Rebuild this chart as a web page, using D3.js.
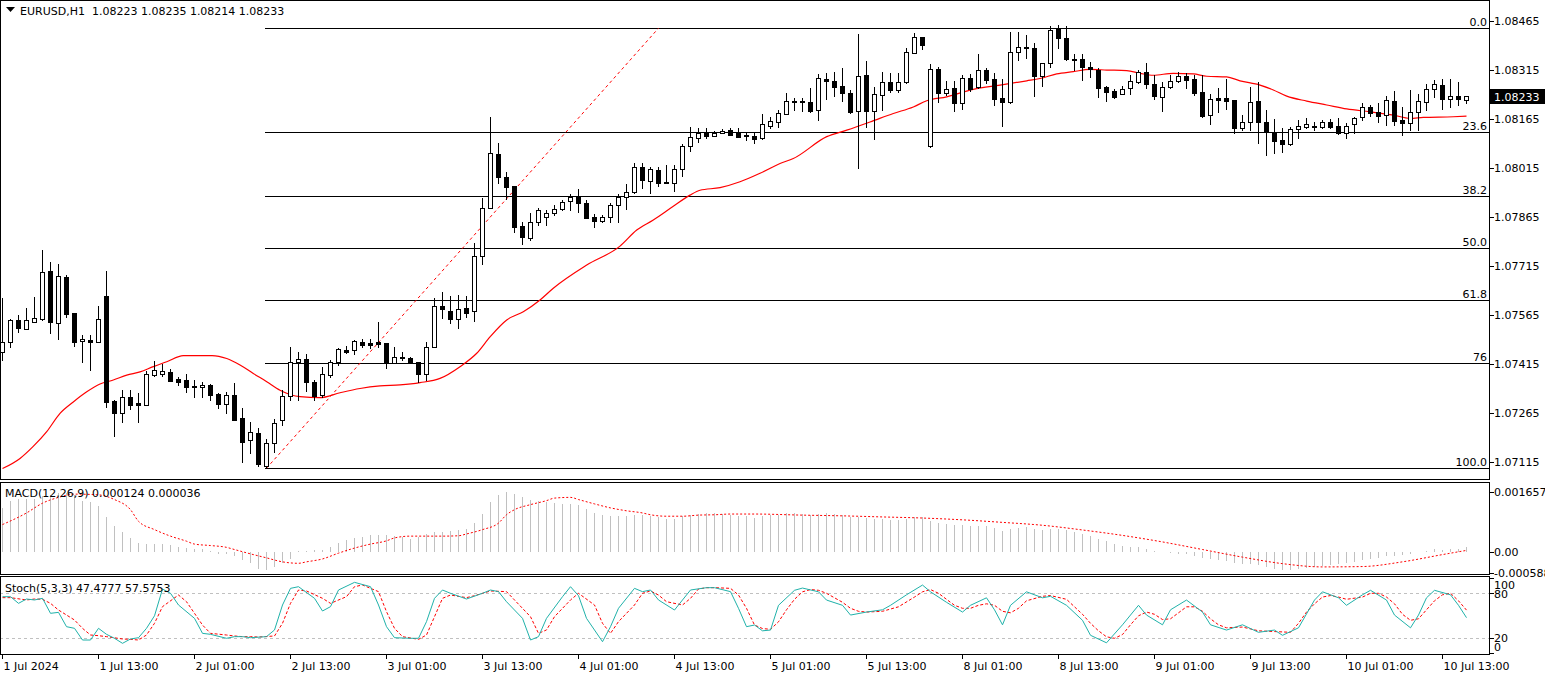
<!DOCTYPE html>
<html><head><meta charset="utf-8">
<script src="https://cdn.jsdelivr.net/npm/d3@7"></script>
<style>
html,body{margin:0;padding:0;background:#fff;overflow:hidden;}
svg{display:block;font-family:"DejaVu Sans",sans-serif;font-size:11px;}
</style></head><body>
<svg id="c" width="1545" height="676"></svg>
<script>
// ---------- DATA ----------
const symbolTitle = "EURUSD,H1  1.08223 1.08235 1.08214 1.08233";
const macdTitle = "MACD(12,26,9) 0.000124 0.000036";
const stochTitle = "Stoch(5,3,3) 47.4777 57.5753";
const lastPrice = 1.08233;

const openP=[1.07451,1.07482,1.07549,1.07522,1.07543,1.07552,1.07699,1.07541,1.07681,1.07570,
1.07483,1.07487,1.07482,1.07622,1.07301,1.07265,1.07313,1.07295,1.07290,1.07381,
1.07385,1.07389,1.07368,1.07365,1.07347,1.07343,1.07350,1.07322,1.07293,1.07319,
1.07248,1.07180,1.07202,1.07103,1.07171,1.07242,1.07316,1.07419,1.07428,1.07360,
1.07318,1.07379,1.07419,1.07457,1.07457,1.07480,1.07477,1.07482,1.07477,1.07416,
1.07435,1.07431,1.07421,1.07385,1.07467,1.07592,1.07577,1.07551,1.07584,1.07577,
1.07744,1.07893,1.08057,1.07985,1.07959,1.07836,1.07800,1.07848,1.07865,1.07875,
1.07889,1.07912,1.07926,1.07906,1.07863,1.07851,1.07863,1.07900,1.07924,1.07942,
1.08016,1.07975,1.08008,1.07972,1.07967,1.08010,1.08081,1.08105,1.08122,1.08113,
1.08120,1.08130,1.08120,1.08115,1.08112,1.08105,1.08143,1.08154,1.08178,1.08219,
1.08219,1.08215,1.08191,1.08288,1.08280,1.08265,1.08245,1.08189,1.08298,1.08189,
1.08238,1.08277,1.08253,1.08278,1.08367,1.08414,1.08082,1.08316,1.08244,1.08258,
1.08214,1.08291,1.08261,1.08314,1.08288,1.08228,1.08215,1.08368,1.08385,1.08380,
1.08295,1.08334,1.08441,1.08411,1.08347,1.08347,1.08322,1.08314,1.08261,1.08249,
1.08242,1.08258,1.08278,1.08307,1.08270,1.08232,1.08263,1.08281,1.08295,1.08288,
1.08247,1.08176,1.08228,1.08228,1.08222,1.08138,1.08155,1.08219,1.08154,1.08125,
1.08100,1.08089,1.08132,1.08140,1.08141,1.08140,1.08154,1.08142,1.08120,1.08148,
1.08169,1.08200,1.08184,1.08176,1.08219,1.08161,1.08151,1.08186,1.08215,1.08255,
1.08268,1.08226,1.08234,1.08223];
const highP=[1.07615,1.07552,1.07564,1.07585,1.07620,1.07763,1.07725,1.07720,1.07686,1.07570,
1.07503,1.07503,1.07591,1.07699,1.07304,1.07333,1.07333,1.07324,1.07392,1.07424,
1.07414,1.07398,1.07375,1.07383,1.07365,1.07360,1.07353,1.07326,1.07329,1.07355,
1.07278,1.07237,1.07217,1.07186,1.07245,1.07334,1.07467,1.07450,1.07444,1.07365,
1.07406,1.07426,1.07462,1.07469,1.07489,1.07491,1.07491,1.07543,1.07477,1.07465,
1.07450,1.07436,1.07421,1.07482,1.07615,1.07633,1.07622,1.07625,1.07622,1.07783,
1.07922,1.08171,1.08091,1.08002,1.07959,1.07849,1.07875,1.07893,1.07885,1.07900,
1.07916,1.07936,1.07949,1.07916,1.07873,1.07870,1.07906,1.07934,1.07965,1.08028,
1.08028,1.08018,1.08018,1.08023,1.08023,1.08089,1.08140,1.08135,1.08135,1.08127,
1.08132,1.08135,1.08135,1.08120,1.08120,1.08179,1.08171,1.08191,1.08244,1.08227,
1.08227,1.08258,1.08302,1.08306,1.08309,1.08321,1.08253,1.08424,1.08341,1.08263,
1.08307,1.08306,1.08304,1.08380,1.08426,1.08414,1.08332,1.08324,1.08280,1.08281,
1.08298,1.08302,1.08363,1.08319,1.08304,1.08288,1.08429,1.08429,1.08421,1.08397,
1.08334,1.08448,1.08452,1.08448,1.08363,1.08363,1.08339,1.08319,1.08265,1.08256,
1.08265,1.08298,1.08314,1.08334,1.08298,1.08278,1.08298,1.08309,1.08306,1.08298,
1.08298,1.08242,1.08258,1.08285,1.08222,1.08176,1.08261,1.08278,1.08193,1.08163,
1.08138,1.08140,1.08161,1.08166,1.08155,1.08161,1.08163,1.08166,1.08151,1.08171,
1.08214,1.08207,1.08212,1.08234,1.08250,1.08200,1.08253,1.08240,1.08271,1.08283,
1.08288,1.08285,1.08278,1.08235];
const lowP=[1.07426,1.07465,1.07513,1.07521,1.07543,1.07549,1.07510,1.07490,1.07559,1.07469,
1.07421,1.07395,1.07482,1.07283,1.07193,1.07237,1.07276,1.07237,1.07290,1.07378,
1.07378,1.07363,1.07350,1.07329,1.07314,1.07314,1.07304,1.07280,1.07265,1.07242,
1.07115,1.07141,1.07103,1.07096,1.07144,1.07227,1.07304,1.07304,1.07331,1.07304,
1.07314,1.07375,1.07411,1.07447,1.07444,1.07467,1.07462,1.07467,1.07401,1.07416,
1.07426,1.07416,1.07360,1.07365,1.07467,1.07554,1.07540,1.07523,1.07559,1.07546,
1.07719,1.07893,1.07969,1.07919,1.07819,1.07780,1.07793,1.07839,1.07839,1.07870,
1.07885,1.07885,1.07880,1.07862,1.07834,1.07849,1.07848,1.07848,1.07890,1.07938,
1.07952,1.07938,1.07960,1.07967,1.07944,1.07989,1.08067,1.08094,1.08105,1.08111,
1.08120,1.08114,1.08110,1.08100,1.08091,1.08102,1.08138,1.08140,1.08178,1.08191,
1.08189,1.08186,1.08161,1.08225,1.08234,1.08219,1.08183,1.08013,1.08140,1.08102,
1.08191,1.08247,1.08247,1.08275,1.08365,1.08377,1.08079,1.08217,1.08237,1.08189,
1.08196,1.08250,1.08258,1.08273,1.08207,1.08142,1.08212,1.08344,1.08350,1.08235,
1.08265,1.08324,1.08380,1.08344,1.08314,1.08283,1.08293,1.08232,1.08220,1.08228,
1.08240,1.08240,1.08273,1.08258,1.08225,1.08189,1.08258,1.08278,1.08258,1.08237,
1.08169,1.08148,1.08186,1.08196,1.08120,1.08130,1.08130,1.08091,1.08053,1.08059,
1.08064,1.08086,1.08105,1.08135,1.08130,1.08135,1.08138,1.08118,1.08105,1.08120,
1.08161,1.08174,1.08155,1.08145,1.08145,1.08115,1.08130,1.08130,1.08193,1.08232,
1.08196,1.08200,1.08207,1.08214];
const closeP=[1.07480,1.07549,1.07525,1.07549,1.07554,1.07695,1.07543,1.07683,1.07567,1.07482,
1.07490,1.07480,1.07552,1.07298,1.07265,1.07313,1.07289,1.07289,1.07383,1.07395,
1.07392,1.07363,1.07358,1.07344,1.07343,1.07350,1.07320,1.07292,1.07319,1.07242,
1.07176,1.07205,1.07107,1.07171,1.07234,1.07316,1.07419,1.07428,1.07360,1.07317,
1.07383,1.07419,1.07460,1.07451,1.07484,1.07472,1.07472,1.07475,1.07416,1.07436,
1.07432,1.07419,1.07382,1.07467,1.07592,1.07581,1.07551,1.07581,1.07571,1.07744,
1.07893,1.08059,1.07987,1.07956,1.07834,1.07802,1.07848,1.07885,1.07875,1.07890,
1.07910,1.07924,1.07906,1.07862,1.07851,1.07863,1.07900,1.07924,1.07942,1.08016,
1.07976,1.08010,1.07969,1.07967,1.08010,1.08081,1.08108,1.08120,1.08113,1.08120,
1.08128,1.08114,1.08110,1.08112,1.08102,1.08148,1.08158,1.08181,1.08218,1.08215,
1.08215,1.08188,1.08291,1.08281,1.08263,1.08244,1.08186,1.08295,1.08189,1.08242,
1.08277,1.08253,1.08277,1.08368,1.08414,1.08391,1.08316,1.08244,1.08255,1.08214,
1.08291,1.08256,1.08314,1.08283,1.08224,1.08217,1.08368,1.08383,1.08380,1.08296,
1.08334,1.08436,1.08411,1.08347,1.08344,1.08322,1.08317,1.08258,1.08247,1.08232,
1.08255,1.08281,1.08307,1.08270,1.08235,1.08263,1.08281,1.08295,1.08283,1.08244,
1.08173,1.08224,1.08222,1.08220,1.08135,1.08155,1.08217,1.08155,1.08125,1.08097,
1.08089,1.08132,1.08142,1.08148,1.08142,1.08154,1.08140,1.08120,1.08143,1.08166,
1.08200,1.08181,1.08174,1.08222,1.08158,1.08152,1.08184,1.08219,1.08255,1.08270,
1.08224,1.08234,1.08224,1.08233];

// moving average (red), read at (fractional) bar positions
const maBars=[0,2.19,3.81,5.53,7.19,8.85,10.53,12.19,13.85,15.53,17.19,18.85,20.53,22.6,24.69,26.19,28.03,29.69,31.35,33.03,34.69,37.19,39.69,42.19,44.69,47.19,49.69,52.19,54.69,57.19,59.28,60.94,63.03,65.1,67.19,68.85,73.03,77.19,79.28,81.35,83.85,85.94,87.19,89.69,92.19,94.69,97.19,98.85,103.03,105.53,108.44,111.35,113.85,115.53,118.03,121.35,124.69,128.03,129.69,131.78,133.85,135.94,138.03,140.53,142.19,143.85,146.35,148.85,150.53,153.03,154.69,157.19,158.85,160.53,163.03,165.53,168.03,170.94,173.85,175.94,177.6,181.35,183];
const maValues=[1.07094,1.07125,1.07161,1.07207,1.07263,1.07298,1.07329,1.07353,1.07365,1.07380,1.07390,1.07406,1.07421,1.07440,1.07440,1.07440,1.07431,1.07411,1.07385,1.07360,1.07334,1.07314,1.07311,1.07326,1.07339,1.07347,1.07350,1.07357,1.07370,1.07406,1.07447,1.07497,1.07549,1.07574,1.07610,1.07646,1.07717,1.07775,1.07824,1.07855,1.07897,1.07931,1.07946,1.07954,1.07972,1.07998,1.08028,1.08043,1.08110,1.08130,1.08155,1.08181,1.08201,1.08220,1.08232,1.08255,1.08268,1.08281,1.08288,1.08302,1.08309,1.08316,1.08314,1.08312,1.08304,1.08298,1.08304,1.08302,1.08295,1.08293,1.08281,1.08268,1.08253,1.08234,1.08219,1.08207,1.08195,1.08186,1.08176,1.08166,1.08169,1.08171,1.08173];

// Fibonacci retracement
const fibLevels=[0,23.6,38.2,50,61.8,76,100];
const fibLabels=["0.0","23.6","38.2","50.0","61.8","76","100.0"];
const fibHigh=1.08442, fibLow=1.07095;
const fibLowBar=33, fibHighBar=82;

// axes
const priceTicks=[1.08465,1.08315,1.08165,1.08015,1.07865,1.07715,1.07565,1.07415,1.07265,1.07115];
const timeLabels=["1 Jul 2024","1 Jul 13:00","2 Jul 01:00","2 Jul 13:00","3 Jul 01:00","3 Jul 13:00","4 Jul 01:00","4 Jul 13:00","5 Jul 01:00","5 Jul 13:00","8 Jul 01:00","8 Jul 13:00","9 Jul 01:00","9 Jul 13:00","10 Jul 01:00","10 Jul 13:00"];
const timeLabelBars=[0,12,24,36,48,60,72,84,96,108,120,132,144,156,168,180];

// MACD histogram (per bar) and signal
const macdHist=[0.00121,0.00139,0.00146,0.00146,0.00146,0.00153,0.00157,0.00162,0.00162,0.00157,
0.00141,0.00137,0.00125,0.00095,0.00070,0.00054,0.00038,0.00024,0.00022,0.00021,
0.00021,0.00019,0.00013,0.00010,0.00008,0.00007,0.00003,-0.00005,-0.00006,-0.00013,
-0.00022,-0.00031,-0.00047,-0.00050,-0.00043,-0.00031,-0.00019,0.00003,0.00003,0.00004,
0.00006,0.00012,0.00024,0.00031,0.00038,0.00041,0.00045,0.00047,0.00045,0.00043,
0.00040,0.00036,0.00040,0.00049,0.00054,0.00054,0.00058,0.00060,0.00064,0.00078,
0.00104,0.00137,0.00156,0.00164,0.00159,0.00150,0.00144,0.00141,0.00137,0.00134,
0.00132,0.00132,0.00128,0.00119,0.00107,0.00101,0.00098,0.00098,0.00098,0.00101,
0.00101,0.00098,0.00095,0.00091,0.00091,0.00098,0.00102,0.00104,0.00107,0.00107,
0.00104,0.00101,0.00098,0.00098,0.00093,
0.00098,0.00100,0.00102,0.00106,0.00106,
0.00105,0.00102,0.00105,0.00106,0.00104,0.00101,0.00095,0.00096,0.00092,0.00090,
0.00089,0.00087,0.00087,0.00090,0.00095,0.00095,0.00084,0.00080,0.00077,0.00073,
0.00073,0.00071,0.00072,0.00070,0.00065,0.00058,0.00062,0.00066,0.00068,0.00063,
0.00060,0.00064,0.00064,0.00059,0.00054,0.00049,0.00044,0.00036,0.00029,0.00022,
0.00017,0.00014,0.00012,0.00008,0.00002,-0.00002,-0.00004,-0.00005,-0.00007,-0.00011,
-0.00018,-0.00021,-0.00023,-0.00025,-0.00032,-0.00035,-0.00035,-0.00038,-0.00043,-0.00048,
-0.00051,-0.00050,-0.00048,-0.00045,-0.00042,-0.00039,-0.00036,-0.00035,-0.00032,-0.00028,
-0.00023,-0.00020,-0.00018,-0.00013,-0.00011,-0.00010,-0.00006,-0.00002,0.00003,0.00007,
0.00006,0.00007,0.00008,0.000124];
const macdSigBars=[0,3,5,7,9,12,14,16,17,19,21,23,24,26,28,29,31,33,35,37,38,40,42,44,46,48,49,51,53,55,57,58,60,62,63,64,66,68,69,71,72,74,76,78,80,81,83,85,87,89,91,92,94,100,105,110,115,120,125,130,135,140,145,150,155,160,165,170,175,180,183];
const macdSigValues=[0.00075,0.00107,0.00134,0.00150,0.00159,0.00157,0.00144,0.00116,0.00084,0.00061,0.00043,0.00029,0.00021,0.00017,0.00012,0.00006,-0.00006,-0.00017,-0.00028,-0.00032,-0.00028,-0.00020,-0.00004,0.00010,0.00021,0.00030,0.00038,0.00043,0.00043,0.00043,0.00044,0.00049,0.00061,0.00079,0.00102,0.00116,0.00130,0.00141,0.00148,0.00150,0.00144,0.00132,0.00121,0.00113,0.00107,0.00102,0.00098,0.00098,0.00101,0.00102,0.00104,0.00104,0.00104,
0.00101,0.00099,0.00096,0.00093,0.00088,0.00081,0.00073,0.00060,0.00045,0.00027,0.00006,-0.00015,-0.00033,-0.00042,-0.00041,-0.00028,-0.00008,0.000036];
const macdTicks=[0.001657,0,-0.000588];
const macdTickLabels=["0.001657","0.00","-0.000588"];

// Stochastic main (teal) and signal (red)
const stMainBars=[0,1,2,3,4,5,6,7,8,9,10,11,12,13,14,15,16,17,18,19,20,21,22,24,25,26,28,29,30,31,33,34,35,36,37,39,40,41,42,44,46,47,48,49,51,52,53,54,55,56,58,60,61,62,63,65,66,67,68,70,71,72,73,75,76,77,79,80,81,82,84,85,86,88,89,91,92,93,94,
95,96,97,99,100,102,103,105,106,108,110,111,113,115,116,118,120,121,123,124,125,126,128,130,131,133,135,136,138,140,142,143,145,146,148,150,151,153,155,157,159,160,162,164,165,167,168,170,171,173,174,176,177,178,179,181,182,183];
const stMainValues=[75.5,75.5,66.6,72.4,71.1,73.3,53.3,54.6,35.5,33.3,17.7,17.7,33.3,25.3,20,13.3,19.1,20.8,33.3,50,85.7,80,64.4,46.6,26.6,25.3,20,22.2,22.2,20.8,22.2,31.1,64.4,86.6,88.8,73.3,56.4,62.2,84.4,94.6,88.8,64.4,35.5,20.8,20,20,42.2,73.3,84.4,80,72.4,80,84.4,82.2,68.8,46.6,17.7,22.2,46.6,75.5,88.8,76.8,46.6,15.5,35.5,60,86.6,82.2,84.4,71.1,57.7,71.1,84.4,87.5,87.5,82.2,60,35.5,37.7,
30,31,64,84,87,82,71,64,51,55,58,64,78,91,82,68,55,64,74,58,38,64,82,74,76,64,44,24,14,38,64,51,38,58,71,55,38,31,38,28,31,24,34,71,82,74,64,78,84,71,51,34,51,74,84,78,64,47.5];
const stSigBars=[0,1,3,4,5,6,7,9,10,11,12,13,15,16,17,18,19,20,22,23,24,25,26,28,29,30,31,32,34,35,36,37,38,40,41,43,44,45,47,48,49,50,52,53,54,55,56,58,59,61,63,64,66,67,68,69,71,72,74,75,76,77,79,80,81,82,83,85,86,87,88,89,91,92,93,94,
95,96,97,98,99,100,101,102,103,104,105,106,107,108,110,112,114,115,116,117,118,119,120,121,122,123,124,125,126,127,128,130,131,133,134,135,136,137,138,139,140,141,142,143,144,145,146,147,148,149,150,151,152,153,155,157,159,161,162,163,164,165,166,167,168,170,171,172,173,174,175,176,177,178,179,180,181,182,183];
const stSigValues=[74.2,74.2,71.1,72.4,72,66.6,57.7,44.4,33.3,24.4,23.5,22.2,19.1,18.6,17.7,24.4,40,62.2,77.7,68.8,53.3,37.7,26.6,24.4,23.1,22.2,22.2,21.7,23.1,40,66.6,84.4,83.1,73.3,66.6,75.5,88.8,91.1,82.2,55.5,33.3,22.2,18.6,24.4,48.8,73.3,77.7,74.2,76.8,83.1,82.2,71.1,48.8,26.6,31.1,48.8,71.1,80,64.4,40,26.6,42.2,64.4,80,83.1,77.7,68.8,64.4,73.3,85.7,87.5,87.5,86.6,77.7,60,37.7,
33,32,42,58,72,82,85,84,80,74,68,60,56,55,56,62,75,82,85,80,72,64,60,60,64,66,64,56,54,60,70,76,77,72,62,52,40,30,22,20,25,38,50,55,52,45,46,54,62,62,56,46,38,34,35,30,29,28,40,55,66,75,77,75,72,75,80,80,75,66,52,44,46,58,70,78,80,70,57.6];
const stLevels=[80,20];
const stTicks=[100,80,20,0];

// ---------- DRAW ----------
const svg=d3.select("#c");
const axisX=1489.5;
const panes={main:[0.5,479.5],macd:[482.5,574.5],st:[576.5,654.5]};
const x=d3.scaleLinear().domain([0,183]).range([2.5,2.5+183*8]);
const y=d3.scaleLinear().domain([1.07115,1.08465]).range([461.7,20.7]);
const ym=d3.scaleLinear().domain([0,0.001657]).range([551.7,491.7]);
const ys=d3.scaleLinear().domain([0,100]).range([653.3,578.3]);
const R=v=>Math.round(v)+0.5;

svg.append("rect").attr("width",1545).attr("height",676).attr("fill","#fff");
const defs=svg.append("defs");
Object.entries(panes).forEach(([k,[t,b]])=>{
  defs.append("clipPath").attr("id","clip-"+k).append("rect")
    .attr("x",1).attr("y",t+0.5).attr("width",axisX-1.5).attr("height",b-t-1);
});

// ---- main pane ----
const gm=svg.append("g").attr("clip-path","url(#clip-main)");
const fibPrice=l=>fibHigh-(fibHigh-fibLow)*l/100;
const fx0=x(fibLowBar)-1.5;
fibLevels.forEach((l,i)=>{
  const yy=R(y(fibPrice(l)));
  gm.append("line").attr("x1",fx0).attr("x2",axisX).attr("y1",yy).attr("y2",yy)
    .attr("stroke","#000").attr("stroke-width",1).attr("shape-rendering","crispEdges");
  gm.append("text").attr("x",1487).attr("y",yy-3).attr("text-anchor","end")
    .attr("fill","#000").text(fibLabels[i]);
});
gm.append("line").attr("x1",x(fibLowBar)).attr("y1",y(fibLow)).attr("x2",x(fibHighBar)).attr("y2",y(fibHigh))
  .attr("stroke","#ff0000").attr("stroke-width",1).attr("stroke-dasharray","3,3");
gm.append("path").datum(maBars.map((b,i)=>[b,maValues[i]]))
  .attr("d",d3.line().x(d=>x(d[0])).y(d=>y(d[1])).curve(d3.curveMonotoneX))
  .attr("fill","none").attr("stroke","#ff0000").attr("stroke-width",1.2);
openP.forEach((o,i)=>{
  const c=closeP[i],h=highP[i],l=lowP[i];
  const cx=x(i);
  gm.append("line").attr("x1",cx).attr("x2",cx).attr("y1",Math.round(y(h))).attr("y2",Math.round(y(l))+1)
    .attr("stroke","#000").attr("stroke-width",1).attr("shape-rendering","crispEdges");
  const t=R(y(Math.max(o,c))), b=R(y(Math.min(o,c)));
  gm.append("path").attr("d",`M${cx-2},${t}H${cx+2}V${b}H${cx-2}Z`)
    .attr("fill",c>=o?"#fff":"#000").attr("stroke","#000").attr("stroke-width",1)
    .attr("shape-rendering","crispEdges");
});
svg.append("path").attr("d","M6,7H15L10.5,12Z").attr("fill","#000");
svg.append("text").attr("x",20).attr("y",15).attr("fill","#000").attr("xml:space","preserve").text(symbolTitle);

// ---- MACD pane ----
const gd=svg.append("g").attr("clip-path","url(#clip-macd)");
macdHist.forEach((v,i)=>{
  gd.append("line").attr("x1",x(i)).attr("x2",x(i)).attr("y1",Math.round(ym(0))).attr("y2",Math.round(ym(v)))
    .attr("stroke","#c0c0c0").attr("stroke-width",1).attr("shape-rendering","crispEdges");
});
gd.append("path").datum(macdSigBars.map((b,i)=>[b,macdSigValues[i]]))
  .attr("d",d3.line().x(d=>x(d[0])).y(d=>ym(d[1])).curve(d3.curveMonotoneX))
  .attr("fill","none").attr("stroke","#ff0000").attr("stroke-width",1).attr("stroke-dasharray","2,2");
svg.append("text").attr("x",5).attr("y",497).attr("fill","#000").text(macdTitle);

// ---- Stoch pane ----
const gs=svg.append("g").attr("clip-path","url(#clip-st)");
stLevels.forEach(l=>{
  gs.append("line").attr("x1",0).attr("x2",axisX).attr("y1",R(ys(l))).attr("y2",R(ys(l)))
    .attr("stroke","#c0c0c0").attr("stroke-width",1).attr("stroke-dasharray","3,3");
});
gs.append("path").datum(stSigBars.map((b,i)=>[b,stSigValues[i]]))
  .attr("d",d3.line().x(d=>x(d[0])).y(d=>ys(d[1])))
  .attr("fill","none").attr("stroke","#ff0000").attr("stroke-width",1).attr("stroke-dasharray","3,2");
gs.append("path").datum(stMainBars.map((b,i)=>[b,stMainValues[i]]))
  .attr("d",d3.line().x(d=>x(d[0])).y(d=>ys(d[1])))
  .attr("fill","none").attr("stroke","#20b2aa").attr("stroke-width",1);
svg.append("text").attr("x",5).attr("y",592).attr("fill","#000").text(stochTitle);

// ---- borders ----
Object.values(panes).forEach(([t,b])=>{
  svg.append("rect").attr("x",0.5).attr("y",t).attr("width",axisX-0.5).attr("height",b-t)
    .attr("fill","none").attr("stroke","#000").attr("stroke-width",1).attr("shape-rendering","crispEdges");
});

// ---- price axis ----
const ax=svg.append("g");
priceTicks.forEach(p=>{
  const yy=R(y(p));
  ax.append("line").attr("x1",axisX).attr("x2",axisX+4).attr("y1",yy).attr("y2",yy).attr("stroke","#000").attr("shape-rendering","crispEdges");
  ax.append("text").attr("x",1494).attr("y",yy).attr("dy","0.35em").attr("fill","#000").text(p.toFixed(5));
});
const ly=y(lastPrice);
ax.append("rect").attr("x",1490).attr("y",Math.round(ly)-7).attr("width",55).attr("height",15).attr("fill","#000");
ax.append("text").attr("x",1494).attr("y",ly+0.5).attr("dy","0.35em").attr("fill","#fff").text(lastPrice.toFixed(5));

macdTicks.forEach((v,i)=>{
  const yy=R(ym(v));
  ax.append("line").attr("x1",axisX).attr("x2",axisX+4).attr("y1",yy).attr("y2",yy).attr("stroke","#000").attr("shape-rendering","crispEdges");
  ax.append("text").attr("x",1494).attr("y",yy).attr("dy","0.35em").attr("fill","#000").text(macdTickLabels[i]);
});
stTicks.forEach(v=>{
  const yy=R(ys(v));
  ax.append("line").attr("x1",axisX).attr("x2",axisX+4).attr("y1",yy).attr("y2",yy).attr("stroke","#000").attr("shape-rendering","crispEdges");
  const ty = v===100?yy+7 : v===0?yy-6 : v===80?yy+0.5 : yy-0.5;
  ax.append("text").attr("x",1494).attr("y",ty).attr("dy","0.35em").attr("fill","#000").text(String(v));
});

timeLabelBars.forEach((b,i)=>{
  const xx=Math.round(x(b)-0.5)+0.5;
  ax.append("line").attr("x1",xx).attr("x2",xx).attr("y1",654).attr("y2",659).attr("stroke","#000").attr("shape-rendering","crispEdges");
  ax.append("text").attr("x",xx+1).attr("y",670).attr("fill","#000").text(timeLabels[i]);
});
</script>
</body></html>
